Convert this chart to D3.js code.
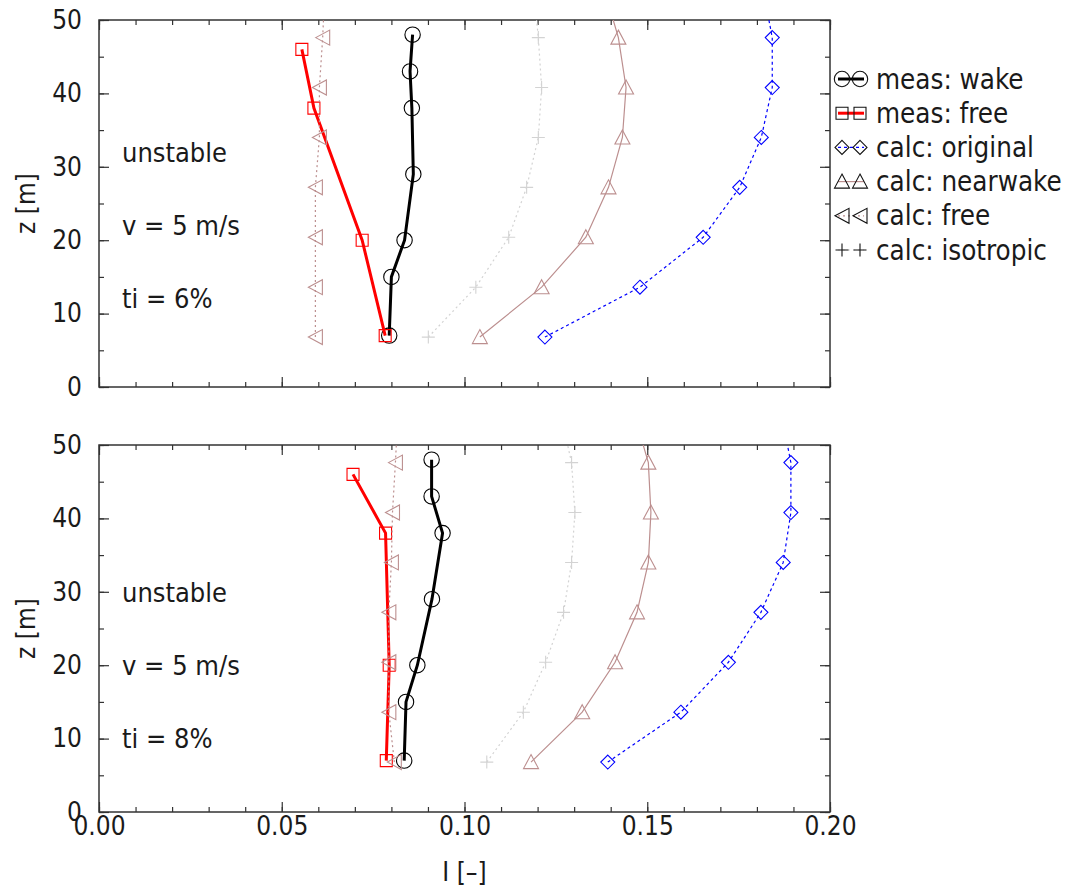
<!DOCTYPE html>
<html>
<head>
<meta charset="utf-8">
<script src="https://cdn.jsdelivr.net/npm/d3@7"></script>
<style>
  body { margin: 0; background: #fff; }
  svg text { font-family: "DejaVu Sans Condensed", "DejaVu Sans", sans-serif; font-stretch: condensed; fill: #1a1a1a; }
</style>
</head>
<body>
<div id="chart"></div>
<script>
// heights of measurement points and model output [m]
const zWake = [7, 15, 20, 29, 38, 43, 48];
const zFree = [7, 20, 38, 46];
const zCalc = [6.8, 13.6, 20.4, 27.2, 34.0, 40.8, 47.6, 54.4];

// ti = 6%
const wake6 = [0.0794, 0.0800, 0.0836, 0.0860, 0.0856, 0.0851, 0.0858];
const free6 = [0.0783, 0.0720, 0.0588, 0.0555];
const original6 = [0.1220, 0.1480, 0.1653, 0.1753, 0.1812, 0.1842, 0.1842, 0.1816];
const nearwake6 = [0.1042, 0.1211, 0.1332, 0.1394, 0.1432, 0.1442, 0.1421, 0.1381];
const calcFree6 = [0.0592, 0.0592, 0.0592, 0.0592, 0.0603, 0.0603, 0.0612, 0.0618];
const isotropic6 = [0.0901, 0.1031, 0.1121, 0.1170, 0.1202, 0.1211, 0.1202, 0.1188];

// ti = 8%
const wake8 = [0.0835, 0.0840, 0.0871, 0.0911, 0.0940, 0.0910, 0.0910];
const free8 = [0.0786, 0.0794, 0.0784, 0.0695];
const original8 = [0.1392, 0.1592, 0.1722, 0.1811, 0.1872, 0.1893, 0.1893, 0.1866];
const nearwake8 = [0.1182, 0.1322, 0.1412, 0.1472, 0.1503, 0.1510, 0.1503, 0.1463];
const calcFree8 = [0.0808, 0.0793, 0.0793, 0.0793, 0.0800, 0.0803, 0.0811, 0.0818];
const isotropic8 = [0.1061, 0.1161, 0.1222, 0.1271, 0.1293, 0.1302, 0.1293, 0.1262];

const legendLabels = ["meas: wake", "meas: free", "calc: original", "calc: nearwake", "calc: free", "calc: isotropic"];
const panelText6 = ["unstable", "v = 5 m/s", "ti = 6%"];
const panelText8 = ["unstable", "v = 5 m/s", "ti = 8%"];
const textZ6 = [30.65, 20.7, 10.75];
const textZ8 = [28.65, 18.65, 8.7];

const styles = [
    {color: "#000000", width: 3, dash: null, marker: "circle"},
    {color: "#ff0000", width: 3, dash: null, marker: "square"},
    {color: "#0000ff", width: 1.2, dash: "3,3", marker: "diamond"},
    {color: "#bc8f8f", width: 1.2, dash: null, marker: "triUp"},
    {color: "#bc8f8f", width: 1.2, dash: "2,3", marker: "triLeft"},
    {color: "#d3d3d3", width: 1.2, dash: "2,3", marker: "plus"}
];

const W = 1070, H = 890;
const xLeft = 99, xRight = 830;

const svg = d3.select("#chart").append("svg")
    .attr("width", W)
    .attr("height", H);

const x = d3.scaleLinear().domain([0, 0.2]).range([xLeft, xRight]);

function markerPath(type) {
    switch (type) {
        case "circle": return "M-7.7,0a7.7,7.7 0 1,0 15.4,0a7.7,7.7 0 1,0 -15.4,0";
        case "square": return "M-6,-6H6V6H-6Z";
        case "diamond": return "M0,-7L7,0L0,7L-7,0Z";
        case "triUp": return "M0,-7.5L7.5,6.5L-7.5,6.5Z";
        case "triLeft": return "M-7,0L7,-7.5L7,7.5Z";
        case "plus": return "M-6.5,0H6.5M0,-6.5V6.5";
    }
}

function drawPanel(top, bottom, series, texts, textZ, showXLabels, id) {
    const y = d3.scaleLinear().domain([0, 50]).range([bottom, top]);
    const g = svg.append("g");

    g.append("clipPath").attr("id", id)
        .append("rect")
        .attr("x", xLeft).attr("y", top)
        .attr("width", xRight - xLeft).attr("height", bottom - top);

    // minor + major ticks on all four sides, pointing inwards
    const xMinor = d3.range(0, 0.2001, 0.01), xMajor = d3.range(0, 0.2001, 0.05);
    const yMinor = d3.range(0, 50.1, 5), yMajor = d3.range(0, 50.1, 10);

    const axes = [
        [d3.axisBottom(x).tickValues(xMinor).tickSize(-5).tickFormat(""), `translate(0,${bottom})`],
        [d3.axisBottom(x).tickValues(xMajor).tickSize(-10).tickPadding(5)
            .tickFormat(showXLabels ? d3.format(".2f") : ""), `translate(0,${bottom})`],
        [d3.axisTop(x).tickValues(xMinor).tickSize(-5).tickFormat(""), `translate(0,${top})`],
        [d3.axisTop(x).tickValues(xMajor).tickSize(-10).tickFormat(""), `translate(0,${top})`],
        [d3.axisLeft(y).tickValues(yMinor).tickSize(-5).tickFormat(""), `translate(${xLeft},0)`],
        [d3.axisLeft(y).tickValues(yMajor).tickSize(-10).tickPadding(17).tickFormat(d3.format("d")), `translate(${xLeft},0)`],
        [d3.axisRight(y).tickValues(yMinor).tickSize(-5).tickFormat(""), `translate(${xRight},0)`],
        [d3.axisRight(y).tickValues(yMajor).tickSize(-10).tickFormat(""), `translate(${xRight},0)`]
    ];
    axes.forEach(function (a) {
        const ax = g.append("g").attr("transform", a[1]).call(a[0]);
        ax.select(".domain").remove();
        ax.selectAll("line").attr("stroke", "#333").attr("stroke-width", 1.2);
        ax.selectAll("text").style("font-size", "26px").attr("fill", "#1a1a1a");
    });

    g.append("rect")
        .attr("x", xLeft).attr("y", top)
        .attr("width", xRight - xLeft).attr("height", bottom - top)
        .attr("fill", "none").attr("stroke", "#333").attr("stroke-width", 1.5);

    const plot = g.append("g").attr("clip-path", `url(#${id})`);
    const line = d3.line().x(d => x(d.v)).y(d => y(d.z));

    series.forEach(function (s, k) {
        const st = styles[k];
        const pts = s.v.map((v, i) => ({v: v, z: s.z[i]}));
        plot.append("path")
            .datum(pts)
            .attr("d", line)
            .attr("fill", "none")
            .attr("stroke", st.color)
            .attr("stroke-width", st.width)
            .attr("stroke-dasharray", st.dash);
        plot.selectAll(null)
            .data(pts)
            .enter().append("path")
            .attr("transform", d => `translate(${x(d.v)},${y(d.z)})`)
            .attr("d", markerPath(st.marker))
            .attr("fill", "none")
            .attr("stroke", st.color)
            .attr("stroke-width", 1.1);
    });

    g.selectAll(".note")
        .data(texts)
        .enter().append("text")
        .attr("class", "note")
        .attr("x", 122)
        .attr("y", (d, i) => y(textZ[i]))
        .style("font-size", "27px")
        .text(d => d);

    g.append("text")
        .attr("transform", `translate(26,${(top + bottom) / 2}) rotate(-90)`)
        .attr("text-anchor", "middle")
        .attr("dy", "0.35em")
        .style("font-size", "26px")
        .text("z [m]");
}

drawPanel(20, 387, [
    {z: zWake, v: wake6}, {z: zFree, v: free6}, {z: zCalc, v: original6},
    {z: zCalc, v: nearwake6}, {z: zCalc, v: calcFree6}, {z: zCalc, v: isotropic6}
], panelText6, textZ6, false, "clipTop");

drawPanel(445, 812, [
    {z: zWake, v: wake8}, {z: zFree, v: free8}, {z: zCalc, v: original8},
    {z: zCalc, v: nearwake8}, {z: zCalc, v: calcFree8}, {z: zCalc, v: isotropic8}
], panelText8, textZ8, true, "clipBottom");

svg.append("text")
    .attr("x", (xLeft + xRight) / 2)
    .attr("y", 872)
    .attr("text-anchor", "middle")
    .attr("dy", "0.35em")
    .style("font-size", "26px")
    .text("I [–]");

// legend to the right of the top panel
const legend = svg.append("g");
legendLabels.forEach(function (label, i) {
    const st = styles[i];
    const ly = 79 + i * 34.2;
    legend.append("line")
        .attr("x1", 838).attr("x2", 864)
        .attr("y1", ly).attr("y2", ly)
        .attr("stroke", st.color)
        .attr("stroke-width", st.width)
        .attr("stroke-dasharray", st.dash);
    [842, 860].forEach(function (mx) {
        legend.append("path")
            .attr("transform", `translate(${mx},${ly})`)
            .attr("d", markerPath(st.marker))
            .attr("fill", "none")
            .attr("stroke", "#111")
            .attr("stroke-width", 1.1);
    });
    legend.append("text")
        .attr("x", 876)
        .attr("y", ly)
        .attr("dy", "0.35em")
        .style("font-size", "27.5px")
        .text(label);
});
</script>
</body>
</html>
